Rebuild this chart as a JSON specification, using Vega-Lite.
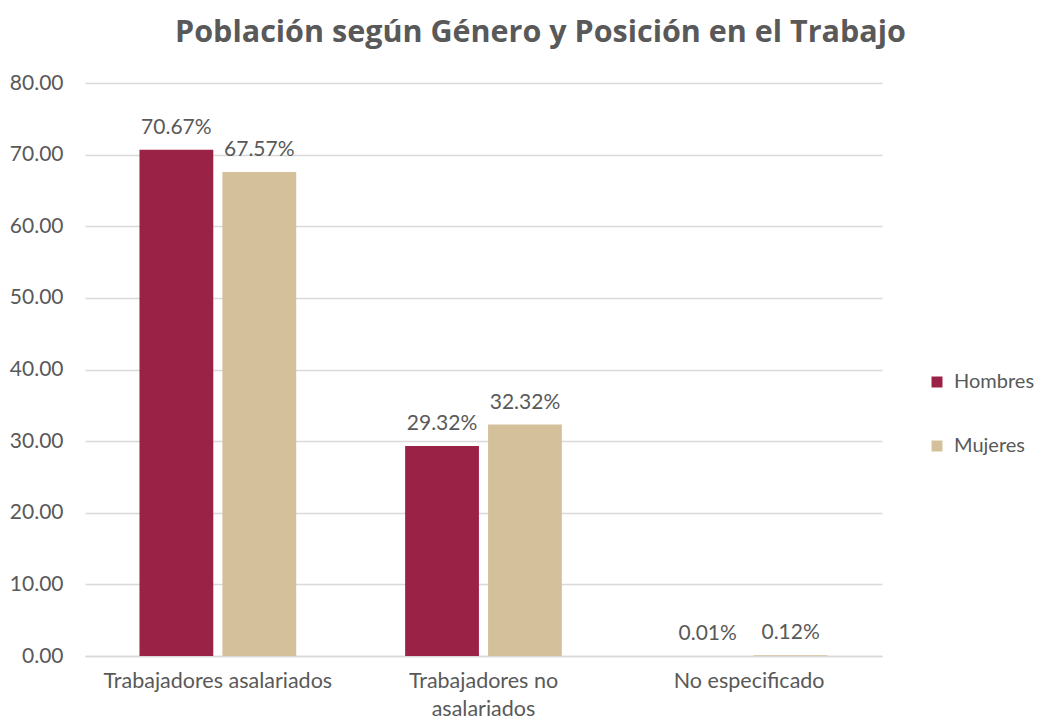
{
  "$schema": "https://vega.github.io/schema/vega-lite/v6.json",
  "width": 797,
  "height": 573,
  "autosize": {"type": "none"},
  "padding": {"left": 85, "top": 83, "right": 155, "bottom": 65},
  "background": "white",
  "title": {
    "text": "Población según Género y Posición en el Trabajo",
    "font": "Open Sans",
    "fontSize": 30.5,
    "fontWeight": "bold",
    "color": "#595959",
    "anchor": "middle",
    "dx": 57,
    "offset": 24
  },
  "data": {
    "values": [
      {"categoria": "Trabajadores asalariados", "genero": "Hombres", "valor": 70.67},
      {"categoria": "Trabajadores asalariados", "genero": "Mujeres", "valor": 67.57},
      {"categoria": "Trabajadores no asalariados", "genero": "Hombres", "valor": 29.32},
      {"categoria": "Trabajadores no asalariados", "genero": "Mujeres", "valor": 32.32},
      {"categoria": "No especificado", "genero": "Hombres", "valor": 0.01},
      {"categoria": "No especificado", "genero": "Mujeres", "valor": 0.12}
    ]
  },
  "encoding": {
    "x": {
      "field": "categoria",
      "type": "nominal",
      "sort": null,
      "scale": {"paddingInner": 0.41, "paddingOuter": 0.205},
      "axis": {
        "title": null,
        "labelAngle": 0,
        "labelFont": "Lato",
        "labelFontSize": 21.5,
        "labelColor": "#595959",
        "labelPadding": 14,
        "labelLimit": 400,
        "ticks": false,
        "domainColor": "#d9d9d9",
        "domainWidth": 1.5,
        "labelLineHeight": 28,
        "labelExpr": "datum.label == 'Trabajadores no asalariados' ? ['Trabajadores no', 'asalariados'] : datum.label"
      }
    },
    "xOffset": {
      "field": "genero",
      "type": "nominal",
      "scale": {"paddingInner": 0.11, "paddingOuter": 0}
    },
    "y": {
      "field": "valor",
      "type": "quantitative",
      "scale": {"domain": [0, 80]},
      "axis": {
        "title": null,
        "values": [0, 10, 20, 30, 40, 50, 60, 70, 80],
        "format": ".2f",
        "labelFont": "Lato",
        "labelFontSize": 21,
        "labelColor": "#595959",
        "labelPadding": 22,
        "ticks": false,
        "domain": false,
        "gridColor": "#d9d9d9",
        "gridWidth": 1.5
      }
    }
  },
  "layer": [
    {
      "mark": {"type": "bar"},
      "encoding": {
        "color": {
          "field": "genero",
          "type": "nominal",
          "scale": {"domain": ["Hombres", "Mujeres"], "range": ["#9B2247", "#D4C19C"]},
          "legend": {
            "title": null,
            "orient": "none",
            "legendX": 842,
            "legendY": 289,
            "symbolType": "square",
            "symbolSize": 121,
            "symbolStrokeWidth": 0,
            "labelFont": "Lato",
            "labelFontSize": 20,
            "labelColor": "#595959",
            "rowPadding": 44,
            "labelOffset": 7
          }
        }
      }
    },
    {
      "transform": [{"calculate": "format(datum.valor, '.2f') + '%'", "as": "etiqueta"}],
      "mark": {"type": "text", "dy": -22, "baseline": "middle", "font": "Lato", "fontSize": 21, "color": "#595959"},
      "encoding": {
        "text": {"field": "etiqueta", "type": "nominal"}
      }
    }
  ],
  "config": {"view": {"stroke": null}}
}
